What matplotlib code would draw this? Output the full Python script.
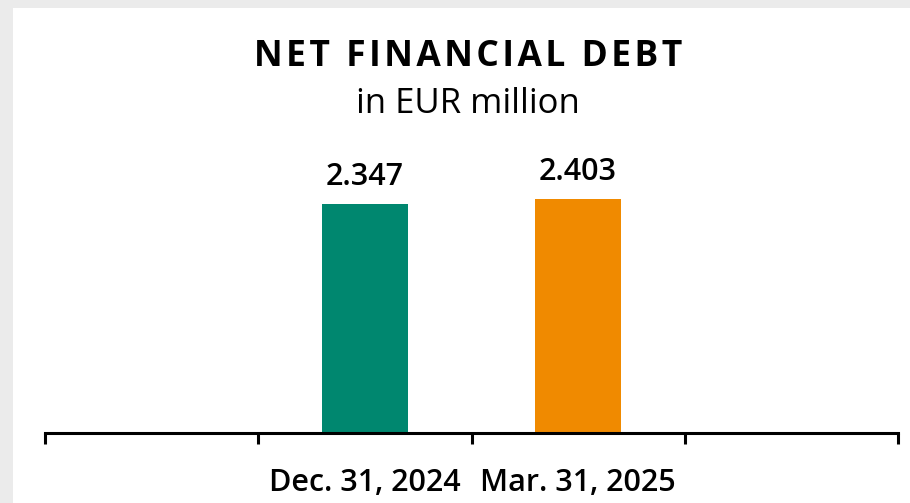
import matplotlib.pyplot as plt
from matplotlib.patches import Rectangle
from matplotlib.ticker import FixedLocator

# Dette financière nette, en millions d'EUR
categories = ["", "Dec. 31, 2024", "Mar. 31, 2025", ""]
valeurs = [None, 2347, 2403, None]
etiquettes = ["", "2.347", "2.403", ""]
couleurs = ["#00876F", "#00876F", "#F08A00", "#F08A00"]
titre = "NET FINANCIAL DEBT"

plt.rcParams['font.family'] = ['Open Sans', 'DejaVu Sans']

fig = plt.figure(figsize=(9.1, 5.03), dpi=100, facecolor="#EBEBEB")
# panneau blanc
fig.patches.append(Rectangle((13 / 910, 0), 1, (503 - 8) / 503,
                             transform=fig.transFigure, facecolor="white",
                             edgecolor="none", zorder=-1))

ax = fig.add_axes([45 / 910, 70 / 503, (898 - 45) / 910, (433 - 140.3) / 503])
ax.set_facecolor("none")
ax.set_zorder(2)

for i, v in enumerate(valeurs):
    if v is None:
        continue
    ax.bar(i, v, width=0.403, color=couleurs[i], zorder=2)
    ax.annotate(etiquettes[i], (i, v), xytext=(0, 13.5), textcoords="offset points",
                ha="center", va="baseline", fontsize=22, fontweight="semibold")

ax.set_xlim(-0.5, len(categories) - 0.5)
ax.set_ylim(0, 3000)

for s in ["top", "right", "left"]:
    ax.spines[s].set_visible(False)
ax.spines["bottom"].set_linewidth(2.2)
ax.set_yticks([])

ax.xaxis.set_major_locator(FixedLocator([i - 0.5 for i in range(len(categories) + 1)]))
ax.set_xticklabels([])
ax.tick_params(axis="x", which="major", length=8, width=2.2, direction="out")
ax.xaxis.set_minor_locator(FixedLocator(range(len(categories))))
ax.set_xticklabels(categories, minor=True, fontsize=22, fontweight="semibold")
ax.tick_params(axis="x", which="minor", length=0, pad=25)

# titre espacé
titre_espace = "\u200a".join(titre)
fig.text(468 / 910, 1 - 57 / 503, titre_espace, ha="center", va="center",
         fontsize=25.5, fontweight="bold")
fig.text(468 / 910, 1 - 104 / 503, "in EUR million", ha="center", va="center",
         fontsize=25)

fig.savefig("out.png", dpi=100, facecolor=fig.get_facecolor())
